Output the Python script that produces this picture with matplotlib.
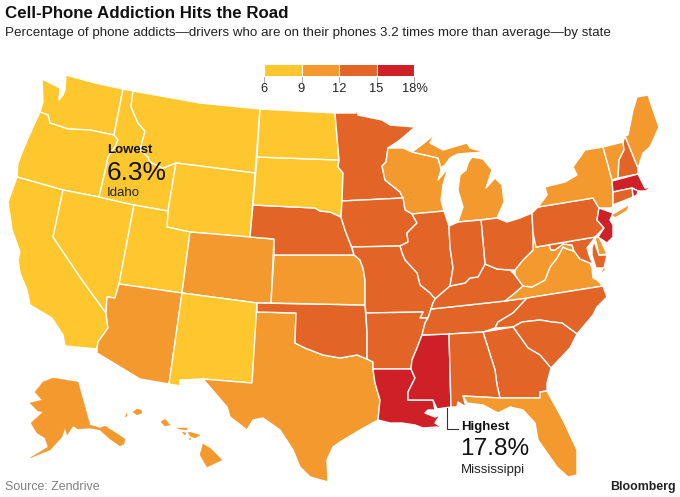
import matplotlib
matplotlib.use('Agg')
from matplotlib import pyplot as plt
from matplotlib.collections import PolyCollection
from matplotlib.colors import BoundaryNorm, ListedColormap

# outlines, in image pixels
WA = [(42,79),(50,83),(60,88),(59,100),(63,95),(65,90),(66,75),(95,83),(123,89),(114,135),(90,130),(68,129),(50,123),(48,115),(40,112),(43,102)]
OR = [(40,112),(48,115),(50,123),(68,129),(90,130),(114,135),(118,140),(115,147),(108,157),(107,163),(99,197),(63,190),(17,177),(18,163),(23,150),(33,127)]
CA = [(17,177),(63,190),(53,237),(82,280),(106,313),(108,328),(98,342),(97,349),(65,346),(63,335),(52,318),(30,305),(27,290),(20,273),(18,260),(20,252),(12,230),(8,202)]
NV = [(63,190),(99,197),(134,205),(119,284),(115,298),(107,297),(106,313),(82,280),(53,237)]
ID = [(123,89),(133,91),(131,107),(138,123),(145,131),(140,150),(148,157),(150,162),(163,168),(176,163),(168,211),(134,205),(99,197),(107,163),(108,157),(115,147),(118,140),(114,135)]
MT = [(133,91),(200,103),(260,109),(255,173),(176,163),(163,168),(150,162),(148,157),(140,150),(145,131),(138,123),(131,107)]
WY = [(176,163),(255,173),(250,237),(190,232),(167,227),(168,211)]
UT = [(134,205),(168,211),(167,227),(190,232),(182,293),(119,284)]
CO = [(190,232),(250,237),(274,239),(271,303),(257,303),(182,293)]
AZ = [(119,284),(182,293),(169,384),(140,379),(97,353),(97,349),(98,342),(108,328),(106,313),(107,297),(115,298)]
NM = [(182,293),(257,303),(257,312),(252,383),(203,379),(180,380),(180,386),(169,384)]
TX = [(257,303),(257,312),(296,313),(295,343),(305,348),(323,355),(340,358),(357,355),(367,359),(373,362),(373,369),(375,383),(380,400),(378,420),(360,430),(340,442),(333,447),(327,460),(328,482),(310,477),(300,467),(293,450),(280,430),(263,418),(253,420),(247,430),(230,417),(227,407),(203,379),(252,383)]
OK = [(257,303),(365,305),(367,333),(367,359),(357,355),(340,358),(323,355),(305,348),(295,343),(296,313),(257,312)]
KS = [(274,255),(354,255),(360,260),(363,268),(365,280),(365,305),(271,303)]
NE = [(253,205),(315,208),(320,211),(330,212),(341,217),(345,230),(350,243),(354,255),(274,255),(274,239),(250,237)]
SD = [(257,157),(339,160),(338,167),(343,173),(342,201),(341,217),(330,212),(320,211),(315,208),(253,205)]
ND = [(260,109),(335,113),(337,137),(339,160),(257,157)]
MN = [(335,113),(356,113),(357,107),(358,115),(382,120),(390,125),(415,127),(400,140),(388,148),(386,162),(382,166),(385,180),(400,192),(403,198),(342,201),(343,173),(338,167),(339,160),(337,137)]
WI = [(388,148),(403,148),(412,152),(438,158),(441,170),(438,180),(448,168),(443,185),(441,200),(444,211),(412,214),(405,210),(403,198),(400,192),(385,180),(382,166),(386,162)]
MI_UP = [(412,152),(424,143),(435,134),(430,143),(443,150),(467,143),(470,148),(485,152),(470,153),(458,154),(450,158),(445,165),(441,168),(438,158)]
MI_LP = [(472,157),(483,159),(492,170),(486,188),(495,178),(502,185),(504,202),(497,218),(458,222),(463,207),(458,190),(460,175),(466,170),(468,163)]
IA = [(342,201),(403,198),(405,210),(412,214),(417,223),(407,233),(408,242),(400,246),(352,247),(350,243),(345,230),(341,217)]
IL = [(412,214),(444,211),(449,226),(450,247),(453,268),(450,286),(435,299),(430,293),(420,285),(417,273),(405,260),(402,253),(400,246),(408,242),(407,233),(417,223)]
MO = [(352,247),(400,246),(402,253),(405,260),(417,273),(420,285),(430,293),(435,299),(433,303),(431,309),(428,318),(420,318),(423,312),(366,313),(365,305),(365,280),(363,268),(360,260),(354,255)]
AR = [(366,313),(423,312),(420,318),(428,318),(425,323),(422,335),(417,348),(412,360),(411,369),(373,369),(373,362),(367,359),(367,333)]
LA = [(373,369),(411,369),(415,378),(408,392),(408,400),(433,400),(435,410),(428,410),(425,413),(435,417),(440,415),(435,423),(444,429),(437,427),(423,428),(415,425),(402,423),(390,423),(378,420),(380,400),(375,383)]
MS = [(422,335),(449,334),(451,407),(437,409),(433,400),(408,400),(408,392),(415,378),(411,369),(412,360),(417,348)]
TN = [(431,309),(450,307),(505,301),(527,298),(513,313),(498,322),(495,328),(483,332),(449,334),(422,335),(425,323),(428,318)]
KY = [(435,299),(450,286),(465,283),(470,278),(478,277),(485,264),(497,269),(510,270),(515,275),(523,286),(515,293),(505,301),(450,307),(431,309),(433,303)]
VA = [(505,301),(515,293),(523,286),(532,287),(545,280),(550,267),(557,258),(563,247),(567,249),(574,251),(580,259),(590,263),(592,268),(593,278),(597,280),(603,286),(527,298)]
WV = [(536,247),(549,245),(551,250),(555,250),(563,244),(572,245),(574,251),(567,249),(563,247),(557,258),(550,267),(545,280),(532,287),(523,286),(515,275),(515,270),(523,260),(533,250),(533,233),(532,213)]
OH = [(481,220),(497,218),(507,222),(520,218),(532,213),(533,233),(533,250),(523,260),(515,270),(510,270),(497,269),(485,264)]
IN = [(449,226),(458,222),(481,220),(485,264),(478,277),(470,278),(465,283),(450,286),(453,268),(450,247)]
MD = [(549,245),(595,237),(593,240),(587,248),(590,258),(593,263),(590,263),(580,259),(574,251),(572,245),(563,244),(555,250),(551,250)]
MD_ES = [(594,241),(599,255),(607,255),(604,268),(596,268),(592,255),(592,248)]
DE = [(595,238),(599,237),(607,254),(599,255)]
VA_ES = [(603,268),(607,268),(599,277)]
PA = [(538,207),(593,198),(599,208),(597,220),(604,228),(595,237),(536,247),(533,233),(532,213)]
NY = [(538,207),(547,195),(545,187),(565,182),(577,175),(573,167),(585,150),(603,147),(608,165),(612,180),(613,192),(613,205),(612,208),(599,208),(593,198)]
LI = [(611,215),(630,204),(627,211),(615,218)]
VT = [(603,147),(623,142),(624,150),(619,160),(618,178),(612,180),(608,165)]
NH = [(623,142),(625,136),(638,168),(638,174),(618,178),(619,160),(624,150)]
ME = [(625,136),(628,135),(633,110),(637,97),(648,95),(653,110),(659,127),(650,147),(643,153),(638,168)]
MA = [(612,181),(638,174),(642,182),(645,188),(653,187),(645,191),(638,191),(632,188),(613,192)]
RI = [(632,188),(638,191),(637,195),(633,197)]
CT = [(613,192),(632,188),(633,197),(613,205)]
NJ = [(599,208),(613,213),(610,220),(613,225),(613,237),(607,243),(598,237),(604,228),(597,220)]
NC = [(527,298),(603,286),(607,297),(597,307),(593,315),(577,334),(562,323),(552,322),(540,320),(522,322),(513,327),(495,328),(498,322),(513,313)]
SC = [(513,327),(522,322),(540,320),(552,322),(562,323),(577,334),(570,348),(551,368),(540,355),(528,348)]
GA = [(483,332),(513,327),(528,348),(540,355),(551,368),(547,383),(547,391),(540,392),(540,398),(500,398),(497,385),(495,370)]
AL = [(449,334),(483,332),(495,370),(497,385),(500,398),(463,396),(466,407),(458,402),(457,407),(451,407)]
FL = [(463,396),(500,398),(540,398),(540,392),(547,391),(563,420),(577,450),(577,475),(568,477),(557,467),(538,440),(535,423),(523,410),(510,407),(498,413),(483,405),(467,403)]

AK = [(43,382),(53,378),(78,382),(90,425),(100,428),(105,426),(125,439),(124,444),(120,446),(110,439),(100,430),(90,428),(78,429),(73,426),(67,435),(65,428),(62,437),(50,450),(30,458),(48,447),(45,438),(37,433),(31,423),(43,412),(38,411),(30,403),(42,400),(35,392)]
HI_BIG = [(203,444),(210,448),(222,460),(207,467),(200,455)]
HI_MAUI = [(188,432),(193,433),(200,435),(195,438),(190,436)]
HI_KAHOOLAWE = [(189,439),(191,438),(190,440)]
HI_MOLOKAI = [(177,428),(187,428),(187,430),(180,429)]
HI_LANAI = [(182,432),(186,433),(185,435)]
HI_OAHU = [(161,422),(165,419),(170,425),(165,426)]
HI_KAUAI = [(133,412),(137,409),(141,410),(142,413),(137,415)]
HI_NIIHAU = [(125,417),(127,413),(127,416)]

shapes = [WA, OR, CA, NV, ID, MT, WY, UT, CO, AZ, NM, TX, OK, KS, NE, SD, ND, MN, WI, MI_UP, MI_LP,
          IA, IL, MO, AR, LA, MS, TN, KY, VA, WV, OH, IN, MD, MD_ES, DE, VA_ES, PA, NY, LI, VT, NH,
          ME, MA, RI, CT, NJ, NC, SC, GA, AL, FL]
# percent of phone addicts, only the bin can be read for most states
values = [8, 8, 8, 8, 6.3, 8, 8, 8, 10.5, 10.5, 8, 10.5, 13.5, 10.5, 13.5, 8, 8, 13.5, 10.5, 10.5, 10.5,
          13.5, 13.5, 13.5, 13.5, 17, 17.8, 13.5, 13.5, 10.5, 10.5, 13.5, 13.5, 13.5, 13.5, 10.5, 10.5, 13.5, 10.5, 10.5, 10.5, 13.5,
          10.5, 17, 17, 13.5, 17, 13.5, 13.5, 13.5, 13.5, 10.5]
# Alaska and Hawaii touch no other state, so they get no white border
island_shapes = [AK, HI_BIG, HI_MAUI, HI_KAHOOLAWE, HI_MOLOKAI, HI_LANAI, HI_OAHU, HI_KAUAI, HI_NIIHAU]
island_values = [10.5, 10.5, 10.5, 10.5, 10.5, 10.5, 10.5, 10.5, 10.5]

bin_edges = [6, 9, 12, 15, 18]
bin_colors = ['#FFC72E', '#F3992D', '#E26527', '#CF1F27']
tick_labels = ['6', '9', '12', '15', '18%']

plt.rcParams['font.family'] = ['Liberation Sans', 'DejaVu Sans']

fig = plt.figure(figsize=(6.8, 4.97), dpi=100)
ax = fig.add_axes([0, 0, 1, 1])
ax.set_xlim(0, 680)
ax.set_ylim(497, 0)
ax.axis('off')

cmap = ListedColormap(bin_colors)
norm = BoundaryNorm(bin_edges, cmap.N)
ax.add_collection(PolyCollection(shapes, array=values, cmap=cmap, norm=norm,
                                 edgecolors='white', linewidths=1.0))
ax.add_collection(PolyCollection(island_shapes, array=island_values, cmap=cmap, norm=norm,
                                 edgecolors='face', linewidths=0.3))

# legend bar
legend_x = lambda v: 264 + (v - 6) * 150 / 12
for i, color in enumerate(bin_colors):
    ax.fill_between([legend_x(bin_edges[i]), legend_x(bin_edges[i + 1])], 65, 76,
                    color=color, lw=0)
for v, label in zip(bin_edges, tick_labels):
    ax.plot([legend_x(v), legend_x(v)], [65, 82], color='#999999', lw=0.6)
    ax.plot([legend_x(v), legend_x(v)], [65, 76], color='white', lw=0.8)
    ax.text(legend_x(v) + (1 if v == 18 else 0), 89.5, label, ha='center', va='center', fontsize=9.3, color='#222222')

ax.text(5, 14, 'Cell-Phone Addiction Hits the Road', fontsize=12.2, fontweight='bold',
        color='#111111', va='center')
ax.text(5, 33, 'Percentage of phone addicts\u2014drivers who are on their phones 3.2 times more than average\u2014by state',
        fontsize=9.6, color='#222222', va='center')

ax.text(107, 150, 'Lowest', fontsize=9.5, fontweight='bold', color='#111111', va='center')
ax.text(107, 173, '6.3%', fontsize=19, color='#111111', va='center')
ax.text(107, 193, 'Idaho', fontsize=9.5, color='#222222', va='center')

ax.plot([447, 447, 458], [408, 429, 429], color='#333333', lw=0.8)
ax.text(461, 427, 'Highest', fontsize=9.5, fontweight='bold', color='#111111', va='center')
ax.text(460, 449, '17.8%', fontsize=17.6, color='#111111', va='center')
ax.text(461, 470, 'Mississippi', fontsize=9.5, color='#222222', va='center')

ax.text(5, 487, 'Source: Zendrive', fontsize=8.9, color='#808080', va='center')
ax.text(676, 487, 'Bloomberg', fontsize=8.9, fontweight='bold', color='#222222', va='center', ha='right')

fig.savefig('out.png', dpi=100, facecolor='white')
